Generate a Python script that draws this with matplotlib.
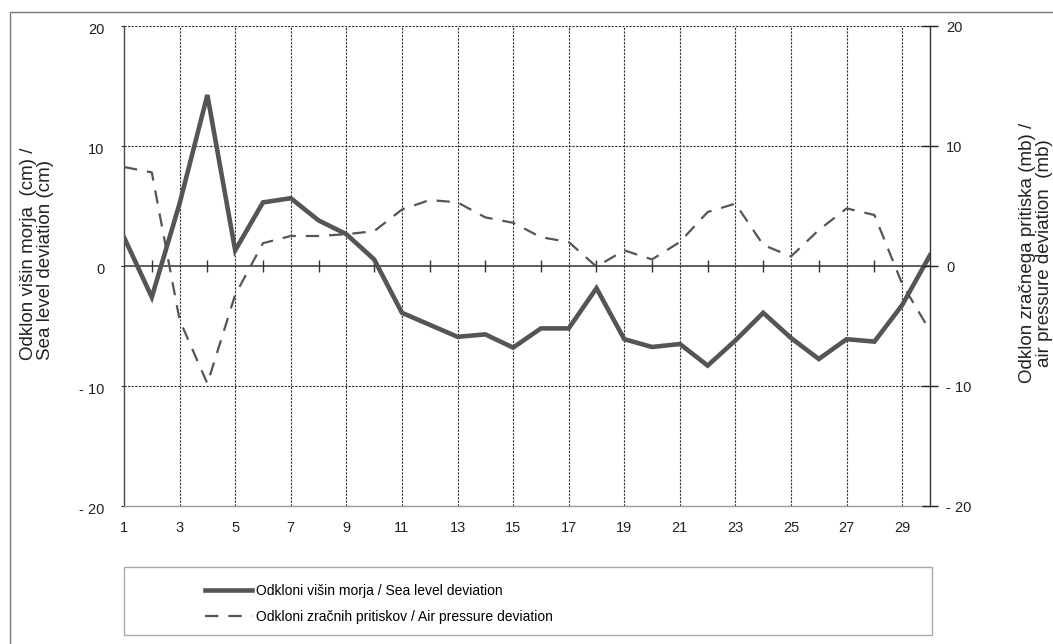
import matplotlib
matplotlib.use("Agg")
from matplotlib import pyplot as plt
from matplotlib.patches import Rectangle
from matplotlib.transforms import ScaledTranslation

# Data
days = list(range(1, 31))
sea_level = [2.4, -2.6, 5.2, 14.25, 1.3, 5.3, 5.65, 3.8, 2.65, 0.55,
             -3.9, -4.9, -5.9, -5.7, -6.8, -5.2, -5.2, -1.85, -6.1, -6.75,
             -6.5, -8.3, -6.2, -3.9, -6.0, -7.75, -6.1, -6.3, -3.25, 0.9]
air_pressure = [8.25, 7.8, -4.5, -9.8, -2.4, 1.9, 2.5, 2.5, 2.65, 2.9,
                4.7, 5.5, 5.3, 4.05, 3.6, 2.4, 2.0, -0.05, 1.3, 0.55,
                2.0, 4.5, 5.2, 1.75, 0.8, 3.0, 4.8, 4.25, -1.5, -5.4]
x_ticks = list(range(1, 30, 2))
y_ticks = [20, 10, 0, -10, -20]
y_ticklabels = ['20', '10', '0', '- 10', '- 20']

W, H = 1053, 644
plt.rcParams['font.family'] = ['Liberation Sans', 'DejaVu Sans']
line_col = '#555555'
grid_col = '#333333'
text_col = '#222222'

fig = plt.figure(figsize=(W / 100, H / 100), dpi=100)
ax = fig.add_axes([124 / W, 1 - 506 / H, (930 - 124) / W, (506 - 26) / H])

ax.set_xlim(1, 30)
ax.set_ylim(-20, 20)

# grid: dotted verticals on odd days, horizontals at +-10 and 20
for d in x_ticks[1:]:
    ax.axvline(d, color=grid_col, lw=0.8, ls=(0, (2, 1.2)), zorder=1)
for v in [20, 10, -10]:
    ax.axhline(v, color=grid_col, lw=0.8, ls=(0, (2, 1.2)), zorder=1)
ax.axhline(0, color='#333333', lw=1.1, zorder=1)
ax.plot(days[1::2][:-1], [0] * 14, ls='none', marker='|', ms=9, mew=1.0,
        color='#333333', zorder=1)

ax.plot(days, sea_level, color=line_col, lw=3.3, solid_joinstyle='miter',
        zorder=3, label='Odkloni višin morja / Sea level deviation')
ax.plot(days, air_pressure, color=line_col, lw=1.6, dashes=(6, 4.5),
        zorder=3, label='Odkloni zračnih pritiskov / Air pressure deviation')

ax.spines['top'].set_visible(False)
ax.spines['left'].set_color('#444444')
ax.spines['bottom'].set_color('#999999')
ax.spines['right'].set_color('#333333')
for s in ax.spines.values():
    s.set_linewidth(1.0)

ax.set_xticks(x_ticks)
ax.set_xticklabels([str(d) for d in x_ticks], fontsize=10.5)
ax.tick_params(axis='x', length=0, pad=11, colors=text_col)
ax.set_yticks(y_ticks)
ax.set_yticklabels(y_ticklabels, fontsize=10.5)
ax.tick_params(axis='y', direction='out', length=2, pad=12, colors=text_col)
shift = ScaledTranslation(0, -3 / 100, fig.dpi_scale_trans)
for lab in ax.get_yticklabels():
    lab.set_transform(lab.get_transform() + shift)

ax2 = ax.twinx()
ax2.set_ylim(-20, 20)
ax2.set_yticks(y_ticks)
ax2.set_yticklabels(y_ticklabels, fontsize=10.5)
ax2.tick_params(axis='y', direction='inout', length=11, width=1.0, pad=6,
                colors=text_col)
for s in ax2.spines.values():
    s.set_visible(False)

fig.text(37 / W, 1 - 254 / H, 'Odklon višin morja  (cm) /\nSea level deviation (cm)',
         rotation=90, ha='center', va='center', multialignment='left',
         fontsize=13.5, color=text_col, linespacing=1.05)
fig.text(1036 / W, 1 - 253 / H, 'Odklon zračnega pritiska (mb) /\nair pressure deviation  (mb)',
         rotation=90, ha='center', va='center', multialignment='center',
         fontsize=13.5, color=text_col, linespacing=1.05)

# outer frame (cropped on the right and bottom) and legend box
fig.patches.append(Rectangle((10 / W, -0.1), 1.2, 1 - 12 / H + 0.1,
                             transform=fig.transFigure, fill=False,
                             edgecolor='#777777', lw=1.0))
fig.patches.append(Rectangle((124 / W, 1 - 635 / H), (932 - 124) / W, (635 - 567) / H,
                             transform=fig.transFigure, fill=False,
                             edgecolor='#aaaaaa', lw=1.0))
fig.legend(loc='upper left', bbox_to_anchor=(205 / W, 1 - 584 / H),
           frameon=False, prop={'size': 10},
           handlelength=3.4, handletextpad=0.3,
           labelspacing=0.85, borderaxespad=0, borderpad=0)

fig.savefig('out.png', dpi=100)
